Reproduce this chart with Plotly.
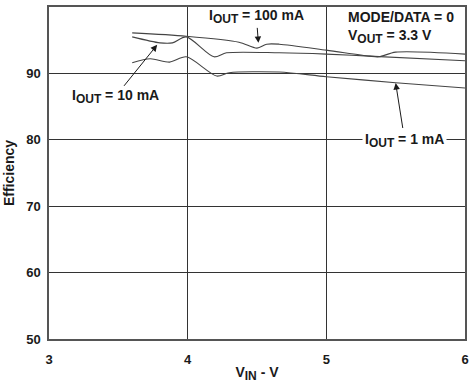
import plotly.graph_objects as go

# Data
vin_100 = [3.60, 3.99, 4.37, 4.50, 4.57, 4.66, 5.00, 5.31, 5.38, 5.50, 6.00]
eff_100 = [96.1, 95.6, 94.7, 93.8, 94.4, 94.4, 93.5, 92.6, 92.5, 93.2, 92.9]

vin_10 = [3.60, 3.80, 3.89, 3.99, 4.19, 4.28, 4.66, 5.00, 5.31, 6.00]
eff_10 = [95.5, 94.6, 94.6, 95.5, 92.5, 93.1, 93.1, 92.9, 92.6, 91.9]

vin_1 = [3.60, 3.73, 3.87, 3.99, 4.21, 4.30, 4.66, 5.00, 5.50, 6.00]
eff_1 = [91.6, 92.2, 91.7, 92.5, 89.6, 90.1, 90.2, 89.5, 88.6, 87.8]

x_ticks = [3, 4, 5, 6]
y_ticks = [50, 60, 70, 80, 90, 100]

FONT = "Liberation Sans, Arial, sans-serif"
LINE = "#444444"

fig = go.Figure()
for xs, ys in [(vin_100, eff_100), (vin_10, eff_10), (vin_1, eff_1)]:
    fig.add_trace(go.Scatter(x=xs, y=ys, mode="lines",
                             line=dict(color=LINE, width=1.1, shape="spline", smoothing=0.8),
                             showlegend=False, hoverinfo="skip"))

ann_font = dict(family=FONT, size=14, color="#1a1a1a")
SUB = "<sub><span style='font-size:12px'>{}</span></sub>"

annotations = [
    dict(x=4.51, y=94.6, xref="x", yref="y", text="<b>I" + SUB.format("OUT") + " = 100 mA</b>",
         showarrow=True, ax=-2, ay=-26, arrowhead=2, arrowsize=1.3, arrowwidth=1,
         arrowcolor="#1a1a1a", font=ann_font),
    dict(x=3.78, y=94.3, xref="x", yref="y", text="<b>I" + SUB.format("OUT") + " = 10 mA</b>",
         showarrow=True, ax=-42, ay=52, arrowhead=2, arrowsize=1.3, arrowwidth=1,
         arrowcolor="#1a1a1a", font=ann_font),
    dict(x=5.50, y=88.55, xref="x", yref="y", text="<b>I" + SUB.format("OUT") + " = 1 mA</b>",
         showarrow=True, ax=9, ay=57, arrowhead=2, arrowsize=1.3, arrowwidth=1,
         arrowcolor="#1a1a1a", font=ann_font, bgcolor="white", borderpad=2),
    dict(x=5.14, y=98.5, xref="x", yref="y", text="<b>MODE/DATA = 0</b>",
         showarrow=False, xanchor="left", font=ann_font),
    dict(x=5.14, y=95.6, xref="x", yref="y", text="<b>V" + SUB.format("OUT") + " = 3.3 V</b>",
         showarrow=False, xanchor="left", font=ann_font),
]

fig.update_layout(
    width=471, height=390,
    margin=dict(l=49, r=6, t=7, b=51, autoexpand=False),
    paper_bgcolor="white", plot_bgcolor="white",
    font=dict(family=FONT, size=13, color="#1a1a1a"),
    annotations=annotations,
    xaxis=dict(range=[3, 6], tickvals=x_ticks, ticktext=[f"<b>{v}</b>" for v in x_ticks],
               showgrid=True, gridcolor="#333333", gridwidth=1,
               showline=True, linecolor="#555555", linewidth=1.5, mirror=True,
               zeroline=False, ticks="", ticklabelstandoff=8, automargin=False,
               title=dict(text="<b>V" + SUB.format("IN") + " - V</b>", standoff=1,
                          font=dict(family=FONT, size=14))),
    yaxis=dict(range=[50, 100], tickvals=y_ticks, ticktext=[f"<b>{v}</b>" for v in y_ticks],
               showgrid=True, gridcolor="#333333", gridwidth=1,
               showline=True, linecolor="#555555", linewidth=1.5, mirror=True,
               zeroline=False, ticks="", ticklabelstandoff=4, automargin=False,
               title=dict(text="<b>Efficiency</b>", standoff=8,
                          font=dict(family=FONT, size=14))),
)

fig.write_html("out.html")
